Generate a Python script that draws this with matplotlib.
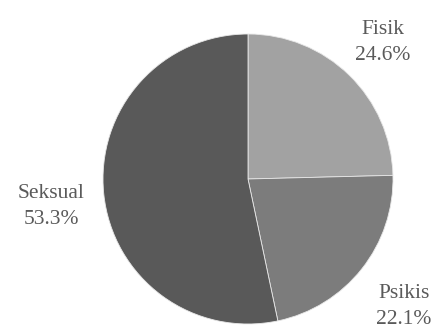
import matplotlib.pyplot as plt

plt.rcParams["font.family"] = "serif"
plt.rcParams["font.serif"] = ["Liberation Serif", "Times New Roman", "DejaVu Serif"]

categories = ["Fisik", "Psikis", "Seksual"]
shares = [24.6, 22.1, 53.3]
colors = ["#a2a2a2", "#7c7c7c", "#595959"]

# label anchor points in pixel space (x, y from top)
label_pos = [(383, 42), (404, 306), (51, 206)]

fig = plt.figure(figsize=(4.35, 3.33), dpi=100)
ax = fig.add_axes([0, 0, 1, 1])

ax.pie(shares, colors=colors, startangle=90, counterclock=False,
       center=(248, 333 - 179), radius=145,
       wedgeprops=dict(edgecolor="#e8e8e8", linewidth=0.6))

for name, val, (x, y) in zip(categories, shares, label_pos):
    ax.text(x, 333 - y, f"{name}\n{val:.1f}%", ha="center", va="center",
            fontsize=15.5, family="Liberation Serif", color="#5a5a5a",
            linespacing=1.5)

ax.set_xlim(0, 435)
ax.set_ylim(0, 333)
ax.set_aspect("equal")
ax.axis("off")

fig.savefig("out.png", dpi=100)
